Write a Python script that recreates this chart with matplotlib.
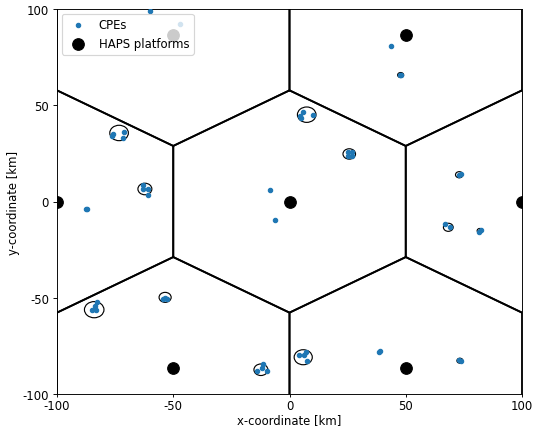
import numpy as np
import matplotlib
matplotlib.use("Agg")
import matplotlib.pyplot as plt
from matplotlib.patches import Circle

plt.rcParams['axes.unicode_minus'] = False

# HAPS platform positions [km]
haps_x = [0, 100, -100, 50, -50, 50, -50]
haps_y = [0, 0, 0, 86.6, 86.6, -86.6, -86.6]

# CPE positions [km]
cpe_x = [-75.9, -76.3, -71.6, -71.2,
         -63.1, -60.7, -62.9, -61.0,
         5.9, 4.5, 5.1, 10.2,
         25.0, 26.7, 25.0, 27.0,
         43.5, 47.5, 48.1,
         73.6, 72.8,
         66.9, 69.0,
         81.6, 82.2,
         -82.9, -83.8, -85.1, -83.2,
         -54.5, -52.8, -53.6,
         -11.5, -12.0, -14.1, -9.8,
         4.2, 6.4, 7.1, 7.7,
         38.9, 38.6,
         73.0, 73.6,
         -60.0, -47.1, -8.4, -6.2, -87.2, -87.6]
cpe_y = [35.1, 34.0, 33.0, 36.1,
         6.5, 6.5, 8.6, 3.4,
         46.6, 44.3, 43.4, 44.9,
         25.6, 25.6, 23.5, 23.8,
         80.9, 65.5, 65.9,
         14.2, 13.8,
         -11.7, -13.4,
         -15.6, -14.9,
         -52.1, -54.1, -56.2, -56.4,
         -50.6, -50.6, -50.2,
         -84.4, -86.7, -88.2, -88.2,
         -79.6, -79.7, -78.0, -83.0,
         -77.6, -78.0,
         -82.5, -82.9,
         98.8, 92.2, 6.0, -9.5, -3.9, -4.1]

# Cluster circles [km]
circ_x = [-73.3, -62.2, 7.4, 25.7, 47.8, 73.0, 68.3, 81.9, -84.0, -53.5, -12.3, 5.9, 73.3]
circ_y = [35.6, 6.5, 45.1, 24.7, 65.7, 13.9, -13.4, -15.2, -56.2, -49.8, -87.4, -80.9, -82.7]
circ_r = [4.0, 3.0, 4.0, 2.7, 1.3, 1.6, 2.1, 1.2, 4.2, 2.6, 3.0, 3.9, 1.3]

DPI = 83.3
fig = plt.figure(figsize=(533/DPI, 431/DPI), dpi=DPI)
ax = fig.add_axes([57/533, 1-395/431, (522-57)/533, (395-10)/431])

# Voronoi (hexagonal) cell boundaries around each HAPS
R = 100/np.sqrt(3)
ang = np.deg2rad(np.arange(90, 90+361, 60))
for hx, hy in zip(haps_x, haps_y):
    ax.plot(hx + R*np.cos(ang), hy + R*np.sin(ang), color='black', lw=1.6, zorder=1)

for cx, cy, r in zip(circ_x, circ_y, circ_r):
    ax.add_patch(Circle((cx, cy), r, fill=False, edgecolor='black', lw=1.0, zorder=2))

ax.scatter(cpe_x, cpe_y, s=14, color='#1f77b4', zorder=3, label='CPEs')
ax.scatter(haps_x, haps_y, s=100, color='black', zorder=3, label='HAPS platforms')

ax.set_xlim(-100, 100)
ax.set_ylim(-100, 100)
ax.set_xticks([-100, -50, 0, 50, 100])
ax.set_yticks([-100, -50, 0, 50, 100])
ax.tick_params(axis='x', length=2.5, pad=1.5)
ax.set_xlabel('x-coordinate [km]', labelpad=1)
ax.set_ylabel('y-coordinate [km]', labelpad=2)
ax.legend(loc='upper left', borderaxespad=0.4)

fig.savefig('out.png', dpi=DPI)
